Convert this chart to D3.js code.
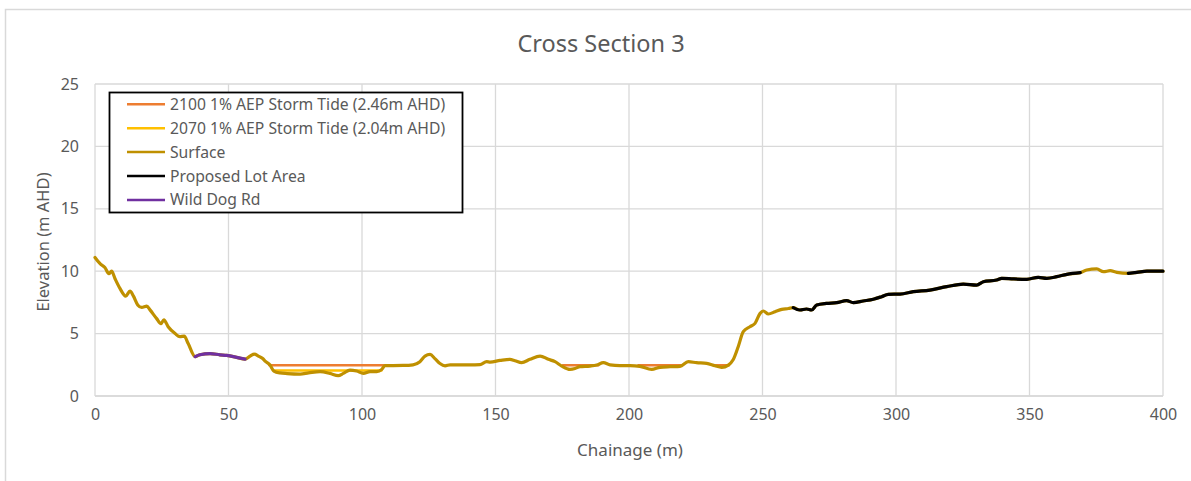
<!DOCTYPE html>
<html>
<head>
<meta charset="utf-8">
<script src="https://cdn.jsdelivr.net/npm/d3@7"></script>
<style>
  html, body { margin: 0; padding: 0; background: #fff; }
  svg { display: block; font-family: "Noto Sans", "Open Sans", sans-serif; }
</style>
</head>
<body>
<svg id="chart" width="1191" height="481"></svg>
<script>
// ---- Data ----
const surfaceChainage = [0, 1.9, 3.7, 5.2, 6.2, 7.5, 9.4, 11.5, 13.1, 14.4, 16.0, 17.5, 19.4, 20.6, 23.1, 24.7, 25.8, 27.4, 30, 31.8, 33.4, 34.9, 37.5, 39.3, 43.1, 46.8, 49.3, 53, 56.2, 58.1, 59.7, 61.2, 62.8, 63.7, 65.5, 67, 69.3, 72, 76.8, 80, 84.3, 88, 91.1, 93, 95.5, 98, 100.5, 103, 105.5, 107.4, 108.6, 111.7, 115.4, 119.1, 121.7, 123.6, 125.5, 127.3, 129.2, 131.1, 133, 136.7, 140.4, 144.2, 146.7, 148, 151.7, 155.4, 157.3, 159.8, 162.9, 166.7, 169.8, 172.3, 174.8, 177.9, 179.8, 181.6, 185.4, 187.9, 190.4, 192.9, 196.6, 200.4, 204.1, 208.5, 211.6, 215.4, 219.1, 222.2, 225.3, 229.1, 232.2, 234.7, 237.2, 239, 240.9, 242.8, 245.3, 247.2, 249.1, 250.3, 252.2, 254.7, 257.2, 259.7, 261.5, 264, 266.5, 268.4, 270.3, 274, 277.8, 281.5, 284, 287.7, 291.5, 294.6, 297.1, 301.5, 306.5, 312.7, 319, 325.2, 330.2, 332.7, 337.7, 339.6, 344, 349, 353.3, 356.5, 360.2, 364, 369, 371.4, 375.2, 377.7, 380.2, 382.7, 387, 390.2, 394, 400];
const surfaceElevation = [11.1, 10.6, 10.3, 9.8, 10.0, 9.4, 8.6, 8.0, 8.4, 8.0, 7.3, 7.1, 7.2, 6.9, 6.2, 5.8, 6.1, 5.55, 5.0, 4.75, 4.8, 4.2, 3.15, 3.3, 3.4, 3.3, 3.25, 3.1, 2.95, 3.2, 3.35, 3.2, 3.0, 2.8, 2.5, 2.0, 1.85, 1.8, 1.76, 1.85, 1.95, 1.81, 1.63, 1.81, 2.08, 2.0, 1.81, 1.95, 1.95, 2.13, 2.44, 2.44, 2.45, 2.5, 2.75, 3.2, 3.33, 3.0, 2.6, 2.42, 2.5, 2.5, 2.5, 2.52, 2.75, 2.72, 2.85, 2.94, 2.83, 2.67, 2.94, 3.2, 2.94, 2.75, 2.4, 2.13, 2.2, 2.35, 2.4, 2.48, 2.67, 2.5, 2.44, 2.44, 2.38, 2.13, 2.3, 2.35, 2.38, 2.75, 2.67, 2.61, 2.42, 2.3, 2.48, 2.9, 3.95, 5.15, 5.55, 5.82, 6.62, 6.81, 6.57, 6.75, 6.94, 7.01, 7.08, 6.89, 6.97, 6.89, 7.29, 7.42, 7.48, 7.64, 7.48, 7.61, 7.75, 7.96, 8.15, 8.17, 8.36, 8.49, 8.76, 8.97, 8.89, 9.16, 9.29, 9.43, 9.38, 9.35, 9.51, 9.43, 9.56, 9.75, 9.88, 10.1, 10.18, 9.96, 10.04, 9.9, 9.83, 9.9, 10.0, 10.0];

// Overlay segments (chainage ranges along the surface)
const lotRanges = [[261.5, 369], [387, 400]];
const roadRanges = [[37.5, 56.2]];

// Storm tide levels (drawn only where the ground is below the level)
const tide2100Level = 2.46;
const tide2100Start = [65.3, 175.2, 203.5, 232.5];
const tide2100End = [108.4, 188.5, 219.5, 237.4];
const tide2070Level = 2.04;
const tide2070Start = [66.8];
const tide2070End = [107.3];

const xTicks = [0, 50, 100, 150, 200, 250, 300, 350, 400];
const yTicks = [0, 5, 10, 15, 20, 25];

const legendLabels = ["2100 1% AEP Storm Tide (2.46m AHD)", "2070 1% AEP Storm Tide (2.04m AHD)", "Surface", "Proposed Lot Area", "Wild Dog Rd"];
const legendColors = ["#ED7D31", "#FFC000", "#BF9000", "#000000", "#7030A0"];

// ---- Chart ----
const svg = d3.select("#chart");
const textColor = "#595959";
const gridColor = "#D9D9D9";

// chart frame
svg.append("rect").attr("x", 5.5).attr("y", 9.5).attr("width", 1300).attr("height", 600)
  .attr("fill", "#fff").attr("stroke", gridColor).attr("stroke-width", 1.5);

const x = d3.scaleLinear().domain([0, 400]).range([95, 1163]);
const y = d3.scaleLinear().domain([0, 25]).range([396, 84]);

// gridlines
const g = svg.append("g");
g.selectAll("line.v").data(xTicks).join("line")
  .attr("x1", d => x(d)).attr("x2", d => x(d)).attr("y1", y(0)).attr("y2", y(25))
  .attr("stroke", gridColor).attr("stroke-width", 1.3);
g.selectAll("line.h").data(yTicks).join("line")
  .attr("x1", x(0)).attr("x2", x(400)).attr("y1", d => y(d)).attr("y2", d => y(d))
  .attr("stroke", gridColor).attr("stroke-width", 1.3);

// axes (labels only, via d3 axis)
const xAxis = svg.append("g").attr("transform", `translate(0,${y(0)})`)
  .call(d3.axisBottom(x).tickValues(xTicks).tickSize(0).tickPadding(18).tickFormat(d3.format("d")));
const yAxis = svg.append("g").attr("transform", `translate(${x(0)},0)`)
  .call(d3.axisLeft(y).tickValues(yTicks).tickSize(0).tickPadding(16).tickFormat(d3.format("d")));
[xAxis, yAxis].forEach(a => {
  a.select(".domain").remove();
  a.selectAll("text").attr("fill", textColor).attr("font-size", 16)
    .attr("font-family", "'Noto Sans', 'Open Sans', sans-serif");
});
xAxis.selectAll("text").attr("dy", "0.4em");
// bottom axis line
svg.append("line").attr("x1", x(0)).attr("x2", x(400)).attr("y1", y(0)).attr("y2", y(0))
  .attr("stroke", gridColor).attr("stroke-width", 1.5);

// line generator
const line = d3.line().x(d => x(d[0])).y(d => y(d[1])).curve(d3.curveMonotoneX);
const surfacePts = surfaceChainage.map((c, i) => [c, surfaceElevation[i]]);

function drawSeries(pts, color, width) {
  svg.append("path").datum(pts).attr("d", line)
    .attr("fill", "none").attr("stroke", color).attr("stroke-width", width)
    .attr("stroke-linejoin", "round").attr("stroke-linecap", "round");
}

tide2100Start.forEach((s, i) => drawSeries([[s, tide2100Level], [tide2100End[i], tide2100Level]], legendColors[0], 2.5));
tide2070Start.forEach((s, i) => drawSeries([[s, tide2070Level], [tide2070End[i], tide2070Level]], legendColors[1], 2.5));
drawSeries(surfacePts, legendColors[2], 3.2);
lotRanges.forEach(r => drawSeries(surfacePts.filter(p => p[0] >= r[0] && p[0] <= r[1]), legendColors[3], 3.2));
roadRanges.forEach(r => drawSeries(surfacePts.filter(p => p[0] >= r[0] && p[0] <= r[1]), legendColors[4], 3.2));

// title
svg.append("text").attr("x", 601).attr("y", 52).attr("text-anchor", "middle")
  .attr("font-size", 23.5).attr("fill", textColor).text("Cross Section 3");

// axis titles
svg.append("text").attr("x", 630).attr("y", 456).attr("text-anchor", "middle")
  .attr("font-size", 17).attr("fill", textColor).text("Chainage (m)");
svg.append("text").attr("transform", "translate(49,242) rotate(-90)").attr("text-anchor", "middle")
  .attr("font-size", 16.5).attr("fill", textColor).text("Elevation (m AHD)");

// legend
const lg = svg.append("g");
lg.append("rect").attr("x", 109.5).attr("y", 92.5).attr("width", 353).attr("height", 120)
  .attr("fill", "#fff").attr("stroke", "#000").attr("stroke-width", 1.8);
const items = lg.selectAll("g.item").data(legendLabels).join("g")
  .attr("transform", (d, i) => `translate(0,${104.3 + i * 23.9})`);
items.append("line").attr("x1", 127).attr("x2", 165).attr("y1", 0).attr("y2", 0)
  .attr("stroke", (d, i) => legendColors[i]).attr("stroke-width", 2.5);
items.append("text").attr("x", 170).attr("y", 0).attr("dy", "0.35em")
  .attr("font-size", 15.7).attr("fill", textColor).text(d => d);
</script>
</body>
</html>
